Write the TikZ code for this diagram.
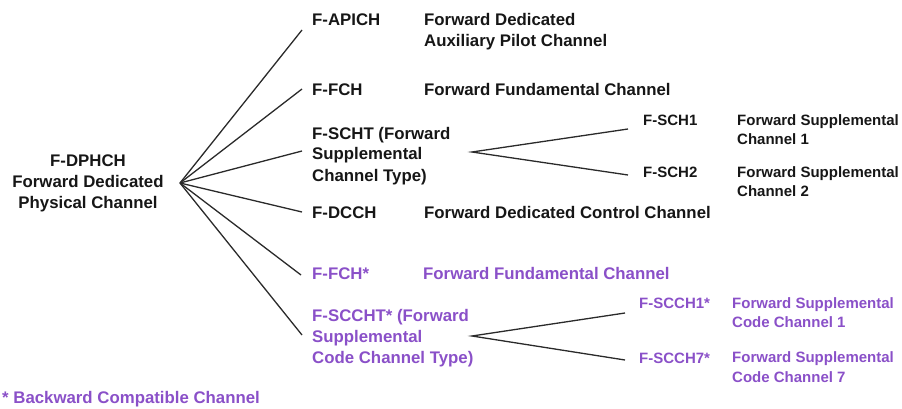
\documentclass[tikz,border=0pt]{standalone}
\usepackage{fontspec}
\setmainfont{Liberation Sans}
\definecolor{inkdark}{HTML}{161616}
\definecolor{linkgray}{HTML}{2A2A2A}
\definecolor{compat}{HTML}{8A50C8}
\tikzset{
  % multi-line labels sit on the baseline of their last line
  lbl/.style={inner sep=0pt, anchor=base west, align=left, text=inkdark,
    font=\fontsize{16.8}{21}\bfseries\selectfont},
  sublbl/.style={lbl, font=\fontsize{15}{19.2}\bfseries\selectfont},
  bc/.style={text=compat},
  link/.style={draw=linkgray, line width=1.3pt},
}
\begin{document}
\begin{tikzpicture}[x=1pt, y=-1pt]
\useasboundingbox (0,0) rectangle (902,409);

% root
\node[lbl, anchor=base, align=center] (root) at (88,208)
  {F-DPHCH\\Forward Dedicated\\Physical Channel};
\coordinate (hub) at (180,183);

% first-level channels
\node[lbl] (apich) at (312,26) {F-APICH};
\node[lbl] (apichd) at (424,46.5) {Forward Dedicated\\Auxiliary Pilot Channel};
\node[lbl] (fch) at (312,96) {F-FCH};
\node[lbl] (fchd) at (424,96) {Forward Fundamental Channel};
\node[lbl] (scht) at (312,181) {F-SCHT (Forward\\Supplemental\\Channel Type)};
\node[lbl] (dcch) at (312,218) {F-DCCH};
\node[lbl] (dcchd) at (424,218) {Forward Dedicated Control Channel};
\node[lbl, bc] (fchb) at (312,279) {F-FCH*};
\node[lbl, bc] (fchbd) at (423,279) {Forward Fundamental Channel};
\node[lbl, bc] (sccht) at (312,363) {F-SCCHT* (Forward\\Supplemental\\Code Channel Type)};

\coordinate (e1) at (302,30);
\coordinate (e2) at (302,89);
\coordinate (e3) at (302,151);
\coordinate (e4) at (302,212);
\coordinate (e5) at (301,275);
\coordinate (e6) at (302,335);
\foreach \e in {e1,e2,e3,e4,e5,e6} \draw[link] (hub) -- (\e);

% supplemental channels
\coordinate (shub) at (472,152);
\coordinate (s1) at (628,129);
\coordinate (s2) at (628,175);
\draw[link] (s1) -- (shub) -- (s2);
\node[sublbl] (sch1) at (643,125) {F-SCH1};
\node[sublbl] (sch1d) at (737,144.5) {Forward Supplemental\\Channel 1};
\node[sublbl] (sch2) at (643,177) {F-SCH2};
\node[sublbl] (sch2d) at (737,196.5) {Forward Supplemental\\Channel 2};

% supplemental code channels
\coordinate (chub) at (472,336);
\coordinate (c1) at (625,313);
\coordinate (c2) at (625,360);
\draw[link] (c1) -- (chub) -- (c2);
\node[sublbl, bc] (scch1) at (639,308) {F-SCCH1*};
\node[sublbl, bc] (scch1d) at (732,327.5) {Forward Supplemental\\Code Channel 1};
\node[sublbl, bc] (scch7) at (639,363) {F-SCCH7*};
\node[sublbl, bc] (scch7d) at (732,382) {Forward Supplemental\\Code Channel 7};

% footnote
\node[lbl, bc] (note) at (2,403) {* Backward Compatible Channel};
\end{tikzpicture}
\end{document}
